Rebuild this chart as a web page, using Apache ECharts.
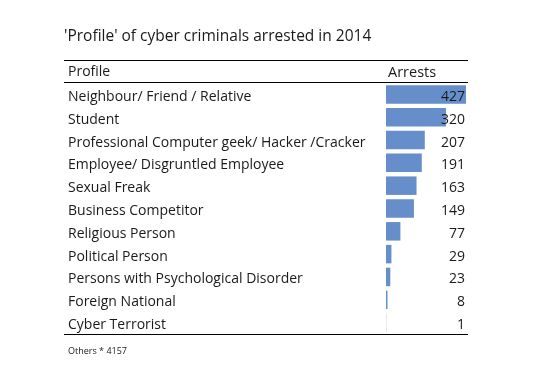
<!DOCTYPE html>
<html><head><meta charset="utf-8">
<script src="https://cdn.jsdelivr.net/npm/echarts@6/dist/echarts.min.js"></script>
<style>html,body{margin:0;padding:0;background:#fff}#c{width:533px;height:377px}</style>
</head><body><div id="c"></div>
<script>
const categories = ["Neighbour/ Friend / Relative","Student","Professional Computer geek/ Hacker /Cracker","Employee/ Disgruntled Employee","Sexual Freak","Business Competitor","Religious Person","Political Person","Persons with Psychological Disorder","Foreign National","Cyber Terrorist"];
const arrests = [427,320,207,191,163,149,77,29,23,8,1];
const titleText = "'Profile' of cyber criminals arrested in 2014";
const headerProfile = "Profile";
const headerArrests = "Arrests";
const footnote = "Others * 4157";

const FONT = "'Open Sans', sans-serif";
const TXT = '#1a1a1a';
const richT = {t:{color:TXT,fontSize:14,fontFamily:FONT,padding:[5,0,0,0]}};
const chart = echarts.init(document.getElementById('c'));
chart.setOption({
  animation:false,
  grid:{left:386,right:67,top:83,height:251},
  xAxis:{type:'value',min:0,max:Math.max(...arrests),show:false},
  yAxis:[{type:'category',data:categories,inverse:true,axisLine:{show:false},axisTick:{show:false},
    axisLabel:{align:'left',margin:318,formatter:v=>'{t|'+v+'}',rich:richT}},
   {type:'category',data:arrests.map(String),inverse:true,position:'right',z:10,axisLine:{show:false},axisTick:{show:false},
    axisLabel:{align:'right',margin:-1,formatter:v=>'{t|'+v+'}',rich:richT}}],
  series:[{type:'bar',data:arrests,barWidth:18.5,itemStyle:{color:'#658ecb'},z:1}],
  graphic:[
    {type:'text',left:64,top:29,style:{text:titleText,font:'15.5px '+FONT,fill:TXT}},
    {type:'line',shape:{x1:64,y1:60.5,x2:468,y2:60.5},style:{stroke:'#000',lineWidth:1}},
    {type:'text',left:68,top:65,style:{text:headerProfile,font:'14px '+FONT,fill:TXT}},
    {type:'text',left:388,top:65,style:{text:headerArrests,font:'14.5px '+FONT,fill:TXT}},
    {type:'line',shape:{x1:64,y1:82.5,x2:468,y2:82.5},style:{stroke:'#000',lineWidth:1}},
    {type:'line',shape:{x1:64,y1:334.5,x2:468,y2:334.5},style:{stroke:'#000',lineWidth:1}},
    {type:'text',left:68,top:347,style:{text:footnote,font:'9px '+FONT,fill:TXT}}
  ]
});
</script></body></html>
